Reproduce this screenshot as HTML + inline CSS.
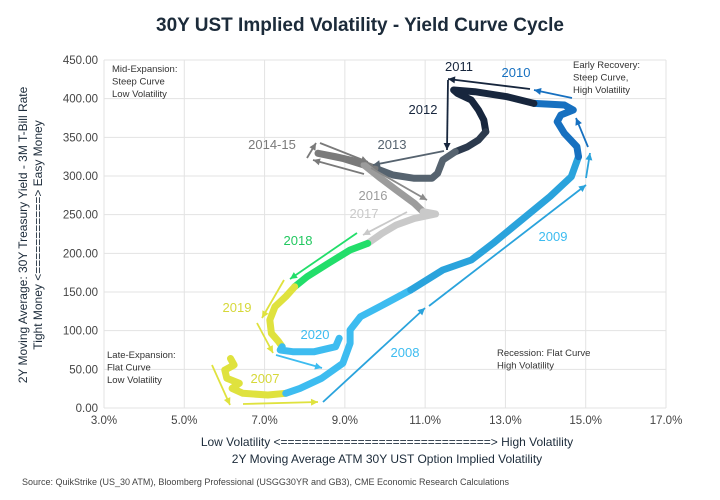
<!DOCTYPE html>
<html><head><meta charset="utf-8"><style>
body{margin:0;background:#fff;font-family:"Liberation Sans",sans-serif;}
#wrap{position:relative;width:720px;height:500px;overflow:hidden;}
</style></head><body>
<div id="wrap">
<svg id="chart" width="720" height="500" xmlns="http://www.w3.org/2000/svg">
<text x="360" y="31" text-anchor="middle" font-size="19" font-weight="bold" fill="#1c2b3a">30Y UST Implied Volatility - Yield Curve Cycle</text>
<g id="grid"></g>
<g id="series"></g>
<g id="ann"></g>
<g font-size="9.5" fill="#333">
<text x="112" y="72"><tspan x="112">Mid-Expansion:</tspan><tspan x="112" dy="12.5">Steep Curve</tspan><tspan x="112" dy="12.5">Low Volatility</tspan></text>
<text x="573" y="68"><tspan x="573">Early Recovery:</tspan><tspan x="573" dy="12.5">Steep Curve,</tspan><tspan x="573" dy="12.5">High Volatility</tspan></text>
<text x="107" y="358"><tspan x="107">Late-Expansion:</tspan><tspan x="107" dy="12.5">Flat Curve</tspan><tspan x="107" dy="12.5">Low Volatility</tspan></text>
<text x="497" y="356"><tspan x="497">Recession: Flat Curve</tspan><tspan x="497" dy="12.5">High Volatility</tspan></text>
</g>
<g font-size="12" fill="#1c2b3a" text-anchor="middle">
<text transform="translate(27,235) rotate(-90)">2Y Moving Average: 30Y Treasury Yield - 3M T-Bill Rate</text>
<text transform="translate(42,235) rotate(-90)">Tight Money &lt;===========&gt; Easy Money</text>
</g>
<g font-size="12" fill="#1c2b3a" text-anchor="middle">
<text x="387" y="446">Low Volatility &lt;==============================&gt; High Volatility</text>
<text x="387" y="463">2Y Moving Average ATM 30Y UST Option Implied Volatility</text>
</g>
<text x="22" y="485" font-size="9" fill="#444">Source: QuikStrike (US_30 ATM), Bloomberg Professional (USGG30YR and GB3), CME Economic Research Calculations</text>
</svg>
</div>
<script>
const xTicks=[3,5,7,9,11,13,15,17];
const yTicks=[0,50,100,150,200,250,300,350,400,450];
const segNames=['2007','2008','2009','2010','2011','2012','2013','2014-15','2016','2017','2018','2019','2020'];
const segColors=['#dfe23e','#3dbcf0','#2aa3dc','#1670c0','#17263d','#2c3a4d','#56636f','#7a7a7a','#9c9c9c','#c9c9c9','#22de6a','#dfe23e','#3dbcf0'];
const vol2007=[6.15,6.24,6.01,6.06,6.37,6.19,6.46,7.08,7.53];
const spr2007=[64,55.6,49,38.4,31.9,25.4,19,16.8,19];
const vol2008=[7.88,8.42,8.95,9.13,9.13,9.39,10.02,10.64];
const spr2008=[25.4,38.4,57.8,83.6,100.9,118.1,135.3,152.6];
const vol2009=[11.44,12.15,12.69,13.40,14.11,14.64,14.82];
const spr2009=[178.4,191.4,212.9,243.1,273.3,299.1,325];
const vol2010=[14.78,14.47,14.29,14.38,14.69,14.47,13.71];
const spr2010=[337.9,355.1,370.2,378.9,385.3,391.8,393.9];
const vol2011=[13.04,12.24,11.71,11.80,12.15,12.33,12.46,12.51];
const spr2011=[402.6,409,411.2,406.9,398.3,385.3,372.4,357.3];
const vol2012=[12.33,12.06,11.75];
const spr2012=[346.5,337.9,331.4];
const vol2013=[11.44,11.31,11.17,10.73,10.20,9.75];
const spr2013=[320.7,303.4,297,297,301.3,309.9];
const vol2014=[9.31,8.77,8.33,8.95,9.48];
const spr2014=[318.5,325,329.3,322.8,314.2];
const vol2016=[9.84,10.28,10.73,10.95];
const spr2016=[299.1,281.9,264.7,253.9];
const vol2017=[11.26,10.73,10.28,9.93,9.57];
const spr2017=[250.8,245.2,236.6,225.9,212.9];
const vol2018=[9.13,8.59,8.06,7.75];
const spr2018=[204.3,187.1,169.8,156.9];
const vol2019=[7.53,7.26,7.13,7.17,7.35,7.44];
const spr2019=[144,131,113.8,96.6,85.8,79.3];
const vol2020=[7.39,7.70,8.24,8.77,8.86];
const spr2020=[75,72.8,72.8,79.3,90.1];
const segVol=[vol2007,vol2008,vol2009,vol2010,vol2011,vol2012,vol2013,vol2014,vol2016,vol2017,vol2018,vol2019,vol2020];
const segSpr=[spr2007,spr2008,spr2009,spr2010,spr2011,spr2012,spr2013,spr2014,spr2016,spr2017,spr2018,spr2019,spr2020];

const X0=104,X1=666,Y0=408,Y1=60;
function sx(v){return X0+(v-3)/(17-3)*(X1-X0);}
function sy(v){return Y0-(v-0)/(450-0)*(Y0-Y1);}
const NS='http://www.w3.org/2000/svg';
function mk(tag,attrs,parent){const e=document.createElementNS(NS,tag);for(const k in attrs)e.setAttribute(k,attrs[k]);parent.appendChild(e);return e;}
const grid=document.getElementById('grid');
xTicks.forEach(t=>{
 const l=mk('line',{x1:sx(t),x2:sx(t),y1:Y1,y2:Y0,stroke:'#e3e3e3','stroke-width':1},grid);
 
 
 const tx=mk('text',{x:sx(t),y:Y0+16,'text-anchor':'middle','font-size':11.5,fill:'#444'},grid);
 tx.textContent=t.toFixed(1)+'%';
 
 
});
yTicks.forEach(t=>{
 const l=mk('line',{x1:X0,x2:X1,y1:sy(t),y2:sy(t),stroke:'#e3e3e3','stroke-width':1},grid);
 
 
 const tx=mk('text',{x:X0-6,y:sy(t)+4,'text-anchor':'end','font-size':11.5,fill:'#444'},grid);
 tx.textContent=t.toFixed(2);
 
 
});
const ser=document.getElementById('series');
let prev=null;
segVol.forEach((vs,i)=>{
 let pts=[];
 if(prev)pts.push(prev);
 vs.forEach((v,j)=>pts.push([sx(v),sy(segSpr[i][j])]));
 prev=pts[pts.length-1];
 const p=mk('polyline',{points:pts.map(p=>p[0].toFixed(1)+','+p[1].toFixed(1)).join(' '),fill:'none',stroke:segColors[i],'stroke-width':7,'stroke-linejoin':'round','stroke-linecap':'round'},ser);
 
 
});
// annotations (pixel positions)
const ann=document.getElementById('ann');
const arrows=[
 [212,365,230,405,'#dfe23e'],[243,404,318,402,'#dfe23e'],
 [323,402,425,308,'#2aa3dc'],[429,306,586,185,'#2aa3dc'],
 [586,178,590,153,'#2aa3dc'],[588,147,576,118,'#1670c0'],
 [572,98,534,90,'#1670c0'],[530,89,448,79,'#17263d'],
 [448,80,447,150,'#17263d'],[444,151,373,165,'#56636f'],
 [307,158,316,143,'#7a7a7a'],[320,143,368,162,'#7a7a7a'],[364,174,313,160,'#7a7a7a'],
 [371,168,427,200,'#8a8a8a'],[407,212,363,235,'#c9c9c9'],
 [357,233,290,279,'#22de6a'],[284,280,262,318,'#dfe23e'],[257,323,273,353,'#dfe23e'],
 [276,355,322,368,'#3dbcf0']
];
arrows.forEach(a=>{
 const [x1,y1,x2,y2,c]=a;
 const g=mk('g',{},ann);
 
 
 mk('line',{x1,y1,x2,y2,stroke:c,'stroke-width':1.8},g);
 const ang=Math.atan2(y2-y1,x2-x1),L=7,W=3.5;
 const bx=x2-L*Math.cos(ang),by=y2-L*Math.sin(ang);
 mk('polygon',{points:`${x2},${y2} ${bx-W*Math.sin(ang)},${by+W*Math.cos(ang)} ${bx+W*Math.sin(ang)},${by-W*Math.cos(ang)}`,fill:c},g);
});
const labels=[
 ['2011',459,71,'#17263d'],['2010',516,77,'#1670c0'],['2012',423,114,'#17263d'],
 ['2013',392,149,'#56636f'],['2014-15',272,149,'#7a7a7a'],['2016',373,200,'#9c9c9c'],
 ['2017',364,218,'#c9c9c9'],['2018',298,245,'#22c860'],['2009',553,241,'#3dbcf0'],
 ['2019',237,312,'#d6d83a'],['2020',315,339,'#3dbcf0'],['2008',405,357,'#3dbcf0'],['2007',265,383,'#d6d83a']
];
labels.forEach(l=>{
 const t=mk('text',{x:l[1],y:l[2],'text-anchor':'middle','font-size':13,fill:l[3]},ann);
 t.textContent=l[0];
 
 
});
</script>
</body></html>
